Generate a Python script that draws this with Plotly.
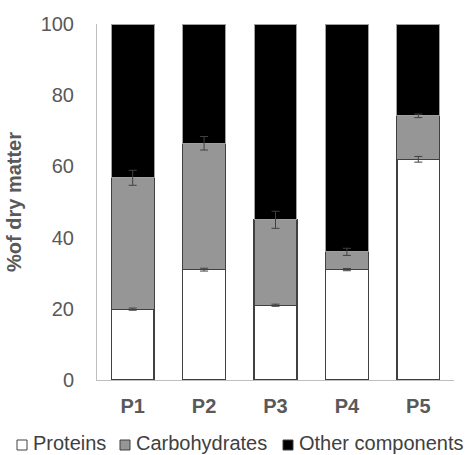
import plotly.graph_objects as go

categories = ["P1", "P2", "P3", "P4", "P5"]
proteins = [19.9, 31.0, 21.0, 31.0, 62.0]
proteins_err = [0.3, 0.4, 0.3, 0.3, 0.8]
carbohydrates = [36.9, 35.5, 24.0, 5.0, 12.2]
carbohydrates_err = [2.1, 1.9, 2.4, 1.0, 0.5]
others = [round(100 - p - c, 2) for p, c in zip(proteins, carbohydrates)]

series_names = ["Proteins", "Carbohydrates", "Other components"]
series_fill = ["#ffffff", "#969696", "#000000"]
series_line = ["#404040", "#404040", "#a0a0a0"]

font_family = "Liberation Sans, Arial, sans-serif"
err_color = "#404040"

fig = go.Figure()
for name, vals, fill, line, lw in zip(series_names, [proteins, carbohydrates, others],
                                      series_fill, series_line, [1.5, 1.2, 1]):
    fig.add_trace(go.Bar(x=categories, y=vals, name=name,
                         marker=dict(color=fill, line=dict(color=line, width=lw))))

tops_p = proteins
tops_c = [p + c for p, c in zip(proteins, carbohydrates)]
for tops, errs in [(tops_p, proteins_err), (tops_c, carbohydrates_err)]:
    fig.add_trace(go.Scatter(x=categories, y=tops, mode="markers",
                             marker=dict(size=0.1, color="rgba(0,0,0,0)"),
                             showlegend=False, hoverinfo="skip",
                             error_y=dict(type="data", array=errs, visible=True,
                                          color=err_color, thickness=1, width=4)))

# Manual legend (compact, like the original)
W, H = 467, 455
L, R, T, B = 97, 13, 24, 75
pw, ph = W - L - R, H - T - B
legend_sq_x = [17, 120, 283]
legend_txt_x = [32, 135, 298]
sq_top, sq_bot = 440, 450
for name, fill, sx, tx in zip(series_names, series_fill, legend_sq_x, legend_txt_x):
    fig.add_shape(type="rect", xref="paper", yref="paper",
                  x0=(sx - L) / pw, x1=(sx + 10 - L) / pw,
                  y0=(H - B - sq_bot) / ph, y1=(H - B - sq_top) / ph,
                  fillcolor=fill, line=dict(color="#404040", width=1))
    fig.add_annotation(text=name, xref="paper", yref="paper",
                       x=(tx - L) / pw, y=(H - B - 443) / ph,
                       xanchor="left", yanchor="middle", showarrow=False, borderpad=0,
                       font=dict(size=20, color="#404040", family=font_family))

fig.update_layout(
    barmode="stack",
    bargap=0.4,
    width=W, height=H,
    margin=dict(l=L, r=R, t=T, b=B, autoexpand=False),
    paper_bgcolor="white", plot_bgcolor="white",
    font=dict(family=font_family, color="#595959", size=20),
    showlegend=False,
    xaxis=dict(showline=True, linecolor="#bfbfbf", linewidth=1, ticks="",
               tickfont=dict(size=20, color="#595959", family=font_family, weight="bold"),
               ticklabelstandoff=8, showgrid=False),
    yaxis=dict(range=[0, 100], dtick=20, showline=True, linecolor="#bfbfbf", linewidth=1,
               ticks="", showgrid=False, zeroline=False,
               tickfont=dict(size=20, color="#595959"), ticklabelstandoff=18,
               title=dict(text="%of dry matter", standoff=13,
                          font=dict(size=20, color="#595959", weight="bold"))),
)

fig.write_html("out.html")
